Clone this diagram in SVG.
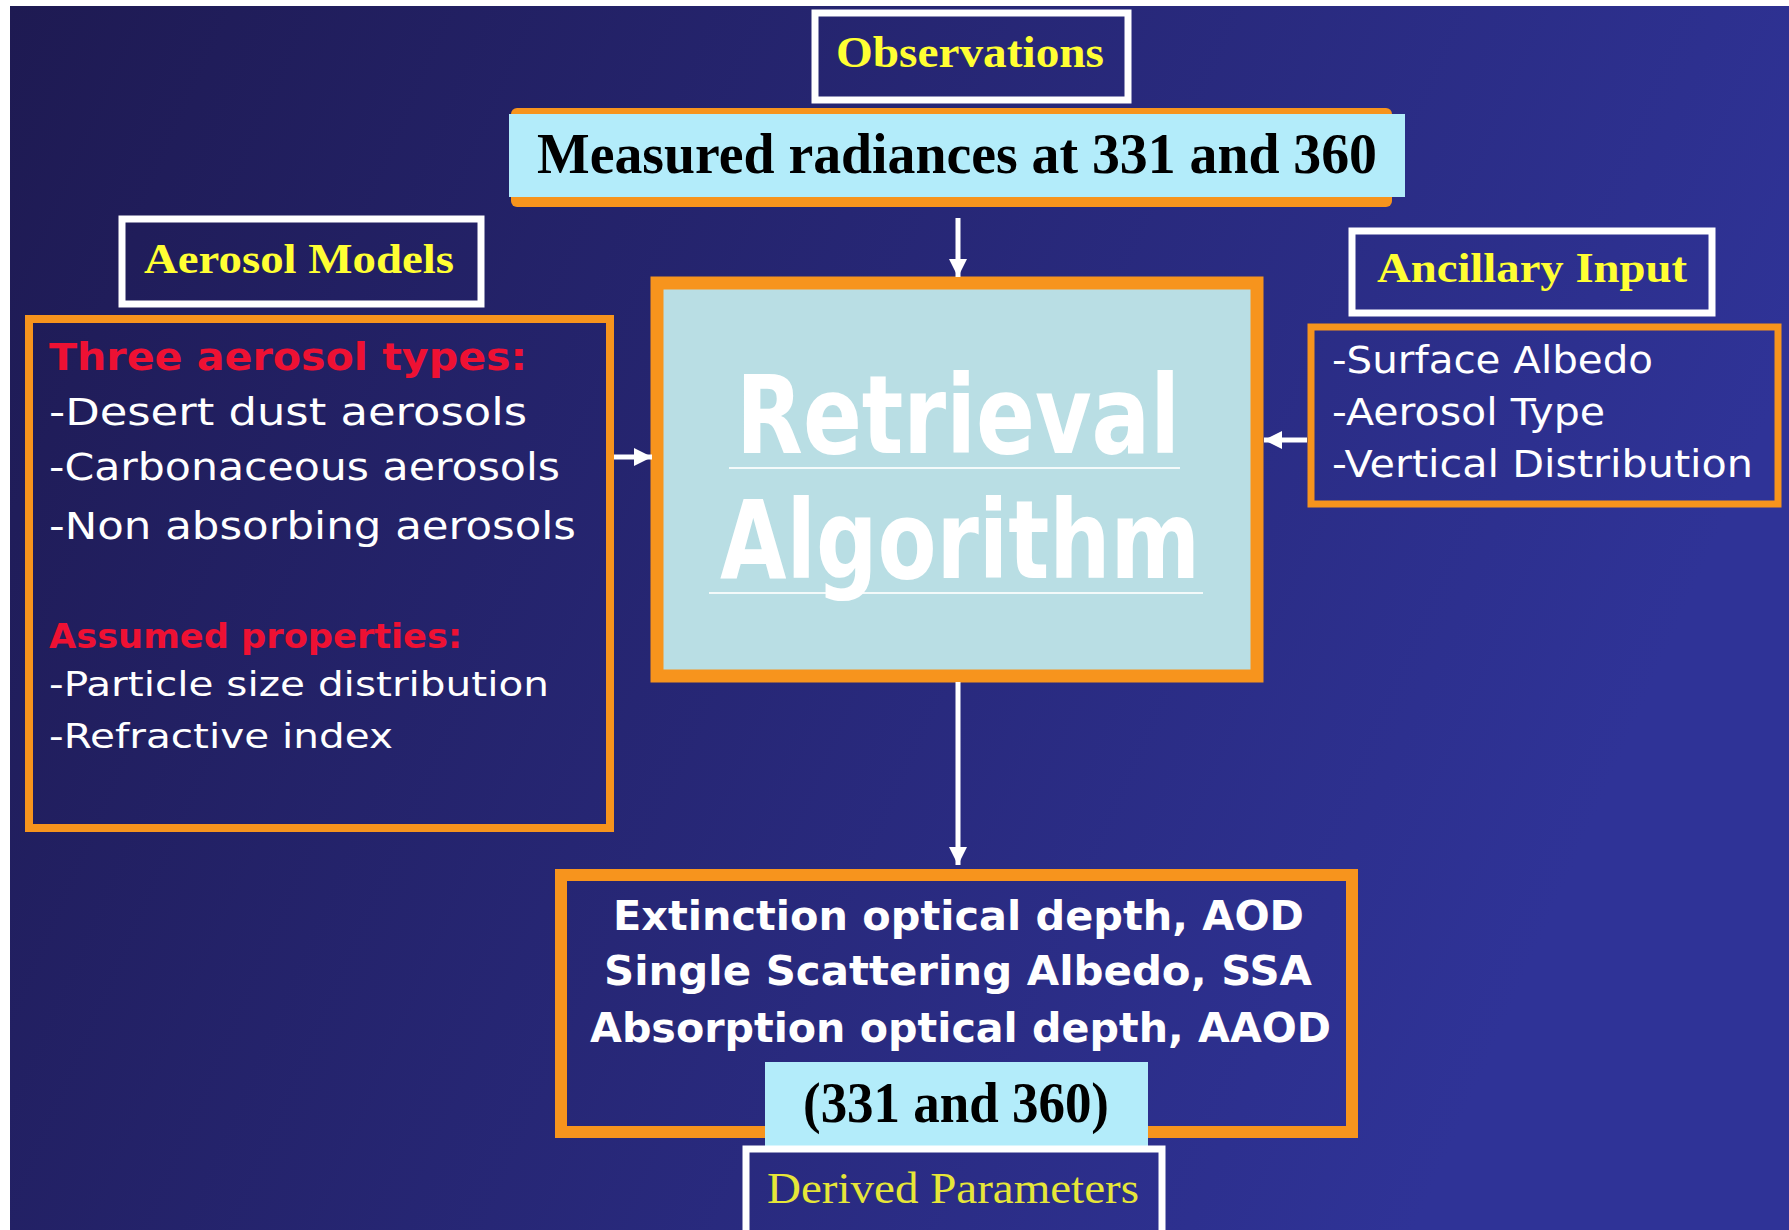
<svg xmlns="http://www.w3.org/2000/svg" width="1789" height="1230" viewBox="0 0 1789 1230">
<defs>
<linearGradient id="bg" x1="0" y1="0" x2="1" y2="0.3">
<stop offset="0" stop-color="#1e1a52"/>
<stop offset="1" stop-color="#2f3397"/>
</linearGradient>
<marker id="ah" markerUnits="userSpaceOnUse" markerWidth="20" markerHeight="20" viewBox="0 0 20 20" refX="18" refY="10" orient="auto">
<path d="M0,1 L18,10 L0,19 Z" fill="#ffffff"/>
</marker>
<style>
.orange{fill:none;stroke:#f7941d;}
.white{fill:none;stroke:#ffffff;stroke-width:7;}
.title{font-family:"Liberation Serif",serif;font-weight:bold;fill:#ffff33;}
.body{font-family:"DejaVu Sans",sans-serif;fill:#ffffff;}
.red{font-family:"DejaVu Sans",sans-serif;fill:#ee1133;font-weight:bold;}
.black{font-family:"Liberation Serif",serif;font-weight:bold;fill:#000000;}
.conn{stroke:#ffffff;stroke-width:5;fill:none;}
</style>
</defs>
<rect x="0" y="0" width="1789" height="1230" fill="#ffffff"/>
<rect x="10" y="6" width="1779" height="1224" fill="url(#bg)"/>

<g id="observations">
<rect class="white" x="815" y="13" width="313" height="87"/>
<text class="title" x="836" y="67" font-size="45" textLength="268" lengthAdjust="spacingAndGlyphs">Observations</text>
</g>

<g id="measured">
<rect x="511" y="108" width="881" height="99" rx="6" fill="#f7941d"/>
<rect x="509" y="114" width="896" height="83" fill="#b3ecfa"/>
<text class="black" x="537" y="173" font-size="56" textLength="840" lengthAdjust="spacingAndGlyphs">Measured radiances at 331 and 360</text>
</g>

<g id="aerosol-models">
<rect class="white" x="122" y="219" width="359" height="85" stroke-width="8"/>
<text class="title" x="144" y="273" font-size="42" textLength="310" lengthAdjust="spacingAndGlyphs">Aerosol Models</text>
</g>

<g id="aerosol-list">
<rect class="orange" x="29" y="319" width="581" height="509" stroke-width="8"/>
<text class="red" x="49" y="370" font-size="37" textLength="478" lengthAdjust="spacingAndGlyphs">Three aerosol types:</text>
<text class="body" x="49" y="425" font-size="37" textLength="478" lengthAdjust="spacingAndGlyphs">-Desert dust aerosols</text>
<text class="body" x="49" y="480" font-size="37" textLength="511" lengthAdjust="spacingAndGlyphs">-Carbonaceous aerosols</text>
<text class="body" x="49" y="539" font-size="37" textLength="527" lengthAdjust="spacingAndGlyphs">-Non absorbing aerosols</text>
<text class="red" x="49" y="648" font-size="34" textLength="413" lengthAdjust="spacingAndGlyphs">Assumed properties:</text>
<text class="body" x="49" y="696" font-size="34" textLength="500" lengthAdjust="spacingAndGlyphs">-Particle size distribution</text>
<text class="body" x="49" y="748" font-size="34" textLength="344" lengthAdjust="spacingAndGlyphs">-Refractive index</text>
</g>

<g id="retrieval">
<rect x="657" y="283" width="600" height="393" fill="#b9dee4" stroke="#f7941d" stroke-width="13"/>
<text x="736" y="453" font-family="DejaVu Sans, sans-serif" font-weight="bold" font-size="108" fill="#ffffff" textLength="444" lengthAdjust="spacingAndGlyphs">Retrieval</text>
<line x1="729" y1="468" x2="1180" y2="468" stroke="#ffffff" stroke-width="2" opacity="0.85"/>
<text x="720" y="578" font-family="DejaVu Sans, sans-serif" font-weight="bold" font-size="108" fill="#ffffff" textLength="480" lengthAdjust="spacingAndGlyphs">Algorithm</text>
<line x1="709" y1="593" x2="1203" y2="593" stroke="#ffffff" stroke-width="2" opacity="0.85"/>
</g>

<g id="ancillary-input">
<rect class="white" x="1352" y="231" width="360" height="82"/>
<text class="title" x="1377" y="282" font-size="43" textLength="310" lengthAdjust="spacingAndGlyphs">Ancillary Input</text>
</g>

<g id="ancillary-list">
<rect class="orange" x="1311" y="327" width="467" height="177" stroke-width="7"/>
<text class="body" x="1332" y="373" font-size="37" textLength="321" lengthAdjust="spacingAndGlyphs">-Surface Albedo</text>
<text class="body" x="1332" y="425" font-size="37" textLength="273" lengthAdjust="spacingAndGlyphs">-Aerosol Type</text>
<text class="body" x="1332" y="477" font-size="37" textLength="421" lengthAdjust="spacingAndGlyphs">-Vertical Distribution</text>
</g>

<g id="outputs">
<rect class="orange" x="561" y="875" width="791" height="257" stroke-width="12"/>
<text class="body" x="613" y="930" font-size="40" font-weight="bold" textLength="691" lengthAdjust="spacingAndGlyphs">Extinction optical depth, AOD</text>
<text class="body" x="604" y="985" font-size="40" font-weight="bold" textLength="708" lengthAdjust="spacingAndGlyphs">Single Scattering Albedo, SSA</text>
<text class="body" x="590" y="1042" font-size="40" font-weight="bold" textLength="741" lengthAdjust="spacingAndGlyphs">Absorption optical depth, AAOD</text>
</g>

<g id="wavelengths">
<rect x="765" y="1062" width="383" height="85" fill="#b3ecfa"/>
<text class="black" x="803" y="1122" font-size="56" textLength="306" lengthAdjust="spacingAndGlyphs">(331 and 360)</text>
</g>

<g id="derived-parameters">
<rect class="white" x="746" y="1149" width="416" height="100"/>
<text x="767" y="1203" font-family="Liberation Serif, serif" font-size="45" fill="#e6e638" textLength="372" lengthAdjust="spacingAndGlyphs">Derived Parameters</text>
</g>

<g id="connectors">
<line class="conn" x1="958" y1="218" x2="958" y2="277" marker-end="url(#ah)"/>
<line class="conn" x1="614" y1="457" x2="652" y2="457" marker-end="url(#ah)"/>
<line class="conn" x1="1307" y1="440" x2="1264" y2="440" marker-end="url(#ah)"/>
<line class="conn" x1="958" y1="682" x2="958" y2="865" marker-end="url(#ah)"/>
</g>
</svg>
